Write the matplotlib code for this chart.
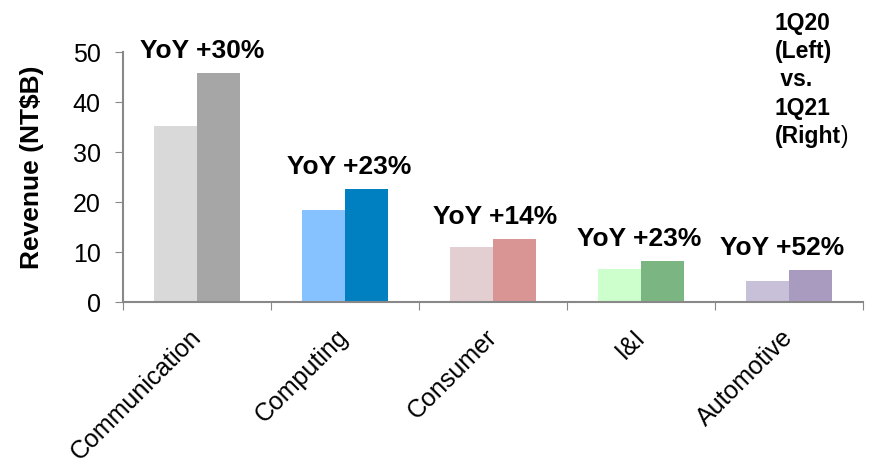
import matplotlib.pyplot as plt
import numpy as np

plt.rcParams["font.family"] = ["Liberation Sans", "DejaVu Sans"]

segments = ["Communication", "Computing", "Consumer", "I&I", "Automotive"]
rev_1q20 = [35.2, 18.4, 11.0, 6.6, 4.2]
rev_1q21 = [45.8, 22.6, 12.6, 8.2, 6.4]
yoy_labels = ["YoY +30%", "YoY +23%", "YoY +14%", "YoY +23%", "YoY +52%"]

# light shade for 1Q20, darker shade for 1Q21
colors_1q20 = ["#d9d9d9", "#86c2ff", "#e3cfd1", "#ccffcc", "#c8bfd8"]
colors_1q21 = ["#a6a6a6", "#0080c0", "#d99594", "#7bb582", "#a99bc0"]

# horizontal nudges (points) for the YoY captions
label_nudge = [4, 3, 1.5, -1, -5]

fig = plt.figure(figsize=(8.81, 4.64), dpi=100)
ax = fig.add_axes([0.1396, 0.347, 0.84, 0.5388])

x = np.arange(len(segments)) + 0.5
width = 0.29
ax.bar(x - width / 2, rev_1q20, width, color=colors_1q20)
ax.bar(x + width / 2, rev_1q21, width, color=colors_1q21)

for xi, a, b, lab, dx in zip(x, rev_1q20, rev_1q21, yoy_labels, label_nudge):
    ax.annotate(lab, (xi, max(a, b)), xytext=(dx, 11.5), textcoords="offset points",
                ha="center", va="baseline", fontsize=19, fontweight="bold")

ax.set_xlim(0, len(segments))
ax.set_ylim(0, 50)
ax.set_yticks(range(0, 51, 10))
ax.tick_params(axis="y", labelsize=18, length=6, color="#888888", pad=10)

# category boundaries carry the ticks, names sit at the centres
ax.set_xticks(np.arange(len(segments) + 1))
ax.set_xticklabels([])
ax.tick_params(axis="x", length=6, color="#888888")
ax.set_xticks(x, minor=True)
ax.set_xticklabels(segments, minor=True, rotation=45, ha="right", va="center",
                   rotation_mode="anchor", fontsize=18)
ax.tick_params(axis="x", which="minor", length=0, pad=22)

for side in ["top", "right"]:
    ax.spines[side].set_visible(False)
for side in ["left", "bottom"]:
    ax.spines[side].set_color("#888888")
    ax.spines[side].set_linewidth(1.5)

ax.set_ylabel("Revenue (NT$B)", fontsize=19, fontweight="bold", va="center")
ax.yaxis.set_label_coords(-0.123, 0.542)

note = fig.text(0.879, 0.975, "1Q20\n(Left)\n vs.\n1Q21\n(Right", ha="left", va="top",
                fontsize=16.5, fontweight="bold", linespacing=1.3)
ax.annotate(")", xy=(1, 0), xycoords=note, ha="left", va="bottom", fontsize=16.5)

fig.savefig("out.png", dpi=100)
